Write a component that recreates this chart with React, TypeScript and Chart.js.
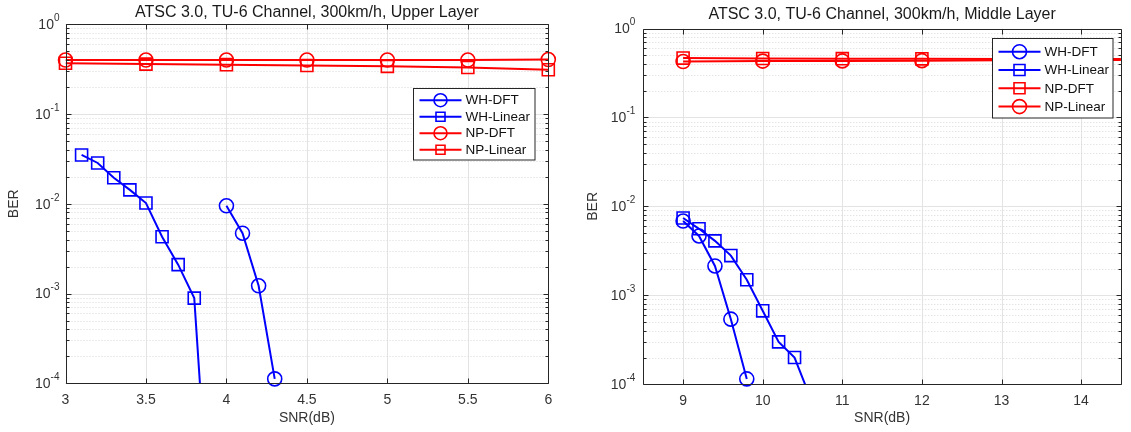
import React, { useEffect, useRef } from 'react';
import { Chart, registerables } from 'chart.js';

Chart.register(...registerables);

const FONT = '"Liberation Sans", Arial, Helvetica, sans-serif';

// ---------- Data: Upper Layer (left panel) ----------
const upperTitle = 'ATSC 3.0, TU-6 Channel, 300km/h, Upper Layer';
const upperXTicks = [3, 3.5, 4, 4.5, 5, 5.5, 6];
const upperWhDftSnr = [4.0, 4.1, 4.2, 4.3];
const upperWhDftBer = [0.0095, 0.0047, 0.00122, 0.000112];
const upperWhLinSnr = [3.1, 3.2, 3.3, 3.4, 3.5, 3.6, 3.7, 3.8, 3.9];
const upperWhLinBer = [0.035, 0.0285, 0.0195, 0.0143, 0.0102, 0.0043, 0.0021, 0.00089, 0.0000018];
const upperNpSnr = [3, 3.5, 4, 4.5, 5, 5.5, 6];
const upperNpDftBer = [0.4, 0.4, 0.4, 0.4, 0.4, 0.4, 0.405];
const upperNpLinBer = [0.368, 0.36, 0.355, 0.348, 0.34, 0.33, 0.312];

// ---------- Data: Middle Layer (right panel) ----------
const middleTitle = 'ATSC 3.0, TU-6 Channel, 300km/h, Middle Layer';
const middleXTicks = [9, 10, 11, 12, 13, 14];
const middleWhDftSnr = [9.0, 9.2, 9.4, 9.6, 9.8];
const middleWhDftBer = [0.00685, 0.00465, 0.00214, 0.00054, 0.000115];
const middleWhLinSnr = [9.0, 9.2, 9.4, 9.6, 9.8, 10.0, 10.2, 10.4, 10.6];
const middleWhLinBer = [0.0074, 0.0056, 0.0041, 0.0028, 0.0015, 0.00067, 0.0003, 0.0002, 0.00007];
const middleNpSnr = [9, 10, 11, 12, 13, 14, 15];
const middleNpDftBer = [0.465, 0.46, 0.458, 0.456, 0.455, 0.455, 0.455];
const middleNpLinBer = [0.425, 0.43, 0.432, 0.435, 0.44, 0.442, 0.445];

// ---------- Axis labels / ranges ----------
const xLabel = 'SNR(dB)';
const yLabel = 'BER';
const yMin = 1e-4;
const yMax = 1;

type Series = { label: string; color: string; marker: 'circle' | 'rect'; x: number[]; y: number[] };

const BLUE = '#0000ff';
const RED = '#ff0000';
const AXIS = '#262626';
const TEXT = '#333333';

const upperSeries: Series[] = [
  { label: 'WH-DFT', color: BLUE, marker: 'circle', x: upperWhDftSnr, y: upperWhDftBer },
  { label: 'WH-Linear', color: BLUE, marker: 'rect', x: upperWhLinSnr, y: upperWhLinBer },
  { label: 'NP-DFT', color: RED, marker: 'circle', x: upperNpSnr, y: upperNpDftBer },
  { label: 'NP-Linear', color: RED, marker: 'rect', x: upperNpSnr, y: upperNpLinBer },
];

const middleSeries: Series[] = [
  { label: 'WH-DFT', color: BLUE, marker: 'circle', x: middleWhDftSnr, y: middleWhDftBer },
  { label: 'WH-Linear', color: BLUE, marker: 'rect', x: middleWhLinSnr, y: middleWhLinBer },
  { label: 'NP-DFT', color: RED, marker: 'rect', x: middleNpSnr, y: middleNpDftBer },
  { label: 'NP-Linear', color: RED, marker: 'circle', x: middleNpSnr, y: middleNpLinBer },
];

type Panel = {
  title: string;
  series: Series[];
  xTicks: number[];
  xMin: number;
  xMax: number;
  canvasLeft: number;
  canvasWidth: number;
  yAxisW: number;
  padRight: number;
  areaTop: number;
  xAxisH: number;
  titleY: number;
  yTitlePad: number;
  yTickPad: number;
  legend: { x: number; y: number; w: number; h: number; first: number; rowH: number; sq: number; circ: number };
};

const panels: Panel[] = [
  {
    title: upperTitle, series: upperSeries, xTicks: upperXTicks, xMin: 3, xMax: 6,
    canvasLeft: 0, canvasWidth: 565, yAxisW: 65.5, padRight: 16.7, areaTop: 24.3, xAxisH: 48.7,
    titleY: 13, yTitlePad: 6.2, yTickPad: 6,
    legend: { x: 413.5, y: 88.5, w: 121.5, h: 71.5, first: 11.7, rowH: 16.5, sq: 4.5, circ: 6.5 },
  },
  {
    title: middleTitle, series: middleSeries, xTicks: middleXTicks, xMin: 8.5, xMax: 14.5,
    canvasLeft: 565, canvasWidth: 566, yAxisW: 78.3, padRight: 7.7, areaTop: 28.5, xAxisH: 47.7,
    titleY: 14.5, yTitlePad: 20.2, yTickPad: 8,
    legend: { x: 427.5, y: 38.5, w: 120.5, h: 79.5, first: 13.2, rowH: 18.3, sq: 5.5, circ: 7 },
  },
];

function forEachLogTick(y: any, fn: (v: number, m: number, e: number) => void) {
  const e0 = Math.floor(Math.log10(y.min));
  const e1 = Math.ceil(Math.log10(y.max));
  for (let e = e0; e <= e1; e++) {
    for (let m = 1; m <= 9; m++) {
      const v = m * Math.pow(10, e);
      if (v < y.min * 0.999 || v > y.max * 1.001) continue;
      fn(v, m, e);
    }
  }
}

const matlabPlugin = {
  id: 'matlabAxes',
  beforeDatasetsDraw(chart: any) {
    const { ctx, chartArea: a, scales } = chart;
    const x = scales.x;
    const y = scales.y;
    ctx.save();
    ctx.lineWidth = 1;
    ctx.strokeStyle = '#e3e3e3';
    ctx.setLineDash([]);
    for (const t of x.ticks) {
      const px = Math.round(x.getPixelForValue(t.value)) + 0.5;
      ctx.beginPath();
      ctx.moveTo(px, a.top);
      ctx.lineTo(px, a.bottom);
      ctx.stroke();
    }
    forEachLogTick(y, (v, m) => {
      const py = Math.round(y.getPixelForValue(v)) + 0.5;
      if (m === 1) {
        ctx.strokeStyle = '#e3e3e3';
        ctx.setLineDash([]);
      } else {
        ctx.strokeStyle = '#d9d9d9';
        ctx.setLineDash([1, 2]);
      }
      ctx.beginPath();
      ctx.moveTo(a.left, py);
      ctx.lineTo(a.right, py);
      ctx.stroke();
    });
    ctx.restore();
  },
  afterDatasetsDraw(chart: any, _args: any, opts: any) {
    const { ctx, chartArea: a, scales } = chart;
    const x = scales.x;
    const y = scales.y;
    ctx.save();
    ctx.strokeStyle = AXIS;
    ctx.lineWidth = 1;
    ctx.setLineDash([]);
    const L = Math.round(a.left) + 0.5;
    const R = Math.round(a.right) + 0.5;
    const T = Math.round(a.top) + 0.5;
    const B = Math.round(a.bottom) + 0.5;
    ctx.beginPath();
    ctx.rect(L, T, R - L, B - T);
    ctx.stroke();
    ctx.beginPath();
    for (const t of x.ticks) {
      const px = Math.round(x.getPixelForValue(t.value)) + 0.5;
      ctx.moveTo(px, B);
      ctx.lineTo(px, B - 5);
      ctx.moveTo(px, T);
      ctx.lineTo(px, T + 5);
    }
    forEachLogTick(y, (v, m) => {
      const py = Math.round(y.getPixelForValue(v)) + 0.5;
      const len = m === 1 ? 5 : 3;
      ctx.moveTo(L, py);
      ctx.lineTo(L + len, py);
      ctx.moveTo(R, py);
      ctx.lineTo(R - len, py);
    });
    ctx.stroke();
    // y tick labels: 10 with superscript exponent
    ctx.fillStyle = TEXT;
    ctx.textBaseline = 'middle';
    forEachLogTick(y, (v, m, e) => {
      if (m !== 1) return;
      const py = y.getPixelForValue(v);
      const right = a.left - opts.yTickPad;
      const exp = String(e);
      ctx.font = `10px ${FONT}`;
      const ew = ctx.measureText(exp).width;
      ctx.textAlign = 'left';
      ctx.fillText(exp, right - ew, py - 6);
      ctx.font = `14px ${FONT}`;
      ctx.textAlign = 'right';
      ctx.fillText('10', right - ew, py + 1);
    });
    ctx.restore();
  },
  afterDraw(chart: any, _args: any, opts: any) {
    const { ctx, chartArea: a } = chart;
    ctx.save();
    ctx.fillStyle = '#1a1a1a';
    ctx.font = `16px ${FONT}`;
    ctx.textAlign = 'center';
    ctx.textBaseline = 'middle';
    ctx.fillText(opts.title, (a.left + a.right) / 2, opts.titleY);
    const lg = opts.legend;
    const items: Series[] = opts.series;
    ctx.fillStyle = '#ffffff';
    ctx.fillRect(lg.x, lg.y, lg.w, lg.h);
    ctx.strokeStyle = AXIS;
    ctx.lineWidth = 1;
    ctx.strokeRect(lg.x, lg.y, lg.w, lg.h);
    ctx.font = `13.5px ${FONT}`;
    ctx.textAlign = 'left';
    ctx.textBaseline = 'middle';
    items.forEach((s, i) => {
      const ry = lg.y + lg.first + i * lg.rowH;
      ctx.strokeStyle = s.color;
      ctx.lineWidth = 2;
      ctx.beginPath();
      ctx.moveTo(lg.x + 6, ry);
      ctx.lineTo(lg.x + 48, ry);
      ctx.stroke();
      ctx.lineWidth = 1.6;
      ctx.beginPath();
      if (s.marker === 'circle') {
        ctx.arc(lg.x + 27, ry, lg.circ, 0, Math.PI * 2);
      } else {
        ctx.rect(lg.x + 27 - lg.sq, ry - lg.sq, lg.sq * 2, lg.sq * 2);
      }
      ctx.stroke();
      ctx.fillStyle = '#111111';
      ctx.fillText(s.label, lg.x + 52, ry + 0.5);
    });
    ctx.restore();
  },
};

function buildDatasets(series: Series[]) {
  const ds: any[] = [];
  series.forEach((s) => {
    const data = s.x.map((xv, i) => ({ x: xv, y: s.y[i] }));
    ds.push({
      label: s.label,
      data,
      borderColor: s.color,
      borderWidth: 2,
      pointRadius: 0,
      pointHoverRadius: 0,
      fill: false,
      tension: 0,
      clip: 0,
    });
    ds.push({
      label: s.label + ' markers',
      data,
      showLine: false,
      borderColor: s.color,
      pointStyle: s.marker,
      pointRadius: (c: any) => (c.raw && c.raw.y >= yMin * 0.999 ? (s.marker === 'rect' ? 8.5 : 7) : 0),
      pointBorderWidth: 1.6,
      pointBorderColor: s.color,
      pointBackgroundColor: 'rgba(0,0,0,0)',
      clip: false,
    });
  });
  return ds;
}

function PanelChart({ p }: { p: Panel }) {
  const ref = useRef<HTMLCanvasElement | null>(null);
  useEffect(() => {
    if (!ref.current) return;
    const chart = new Chart(ref.current, {
      type: 'line',
      data: { datasets: buildDatasets(p.series) },
      plugins: [matlabPlugin],
      options: {
        responsive: false,
        animation: false,
        events: [],
        layout: { padding: { left: 0, right: p.padRight, top: p.areaTop, bottom: 0 } },
        plugins: {
          legend: { display: false },
          title: { display: false },
          tooltip: { enabled: false },
          matlabAxes: { title: p.title, titleY: p.titleY, legend: p.legend, series: p.series, yTickPad: p.yTickPad },
        } as any,
        scales: {
          x: {
            type: 'linear',
            min: p.xMin,
            max: p.xMax,
            grid: { display: false, drawTicks: false },
            border: { display: false },
            ticks: {
              autoSkip: false,
              maxRotation: 0,
              padding: 8,
              color: TEXT,
              font: { family: FONT, size: 14 },
              callback: (v: any) => String(Number(v)),
            },
            afterBuildTicks: (s: any) => {
              s.ticks = p.xTicks.map((v) => ({ value: v }));
            },
            afterFit: (s: any) => {
              s.height = p.xAxisH;
            },
            title: {
              display: true,
              text: xLabel,
              color: TEXT,
              font: { family: FONT, size: 14 },
              padding: { top: 0, bottom: 5.6 },
            },
          },
          y: {
            type: 'logarithmic',
            min: yMin,
            max: yMax,
            grid: { display: false, drawTicks: false },
            border: { display: false },
            ticks: { display: false },
            afterFit: (s: any) => {
              s.width = p.yAxisW;
            },
            title: {
              display: true,
              text: yLabel,
              color: TEXT,
              font: { family: FONT, size: 14 },
              padding: { top: p.yTitlePad, bottom: 0 },
            },
          },
        } as any,
      },
    });
    return () => chart.destroy();
  }, [p]);
  return (
    <canvas
      ref={ref}
      width={p.canvasWidth}
      height={432}
      style={{ position: 'absolute', left: p.canvasLeft, top: 0, width: p.canvasWidth, height: 432, display: 'block' }}
    />
  );
}

export default function App() {
  return (
    <div style={{ position: 'absolute', left: 0, top: 0, width: 1131, height: 432, background: '#ffffff', overflow: 'hidden' }}>
      {panels.map((p, i) => (
        <PanelChart key={i} p={p} />
      ))}
    </div>
  );
}
